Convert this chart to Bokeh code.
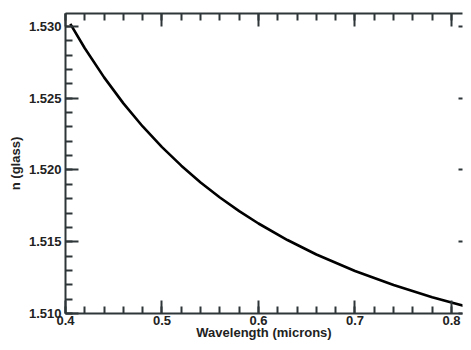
from bokeh.plotting import figure
from bokeh.models import (Range1d, LinearAxis, SingleIntervalTicker,
                          NumeralTickFormatter, CustomJSTickFormatter)
from bokeh.embed import file_html
from bokeh.resources import INLINE

# Data
wavelength = [0.405, 0.42, 0.44, 0.46, 0.48, 0.50, 0.52, 0.54, 0.56, 0.58,
              0.60, 0.63, 0.66, 0.70, 0.74, 0.78, 0.80, 0.82, 0.84]
n_glass = [1.53018, 1.52848, 1.52645, 1.52464, 1.52303, 1.52159, 1.52030,
           1.51913, 1.51808, 1.51713, 1.51627, 1.51512, 1.51411, 1.51296,
           1.51198, 1.51114, 1.51076, 1.51041, 1.51009]

x_label = "Wavelength (microns)"
y_label = "n (glass)"

AX = "#2e3639"
FONT = "Liberation Sans"

p = figure(width=463, height=342, output_backend="svg", toolbar_location=None,
           x_range=Range1d(0.4, 0.8114), y_range=Range1d(1.510, 1.5309),
           min_border_left=65, min_border_right=1, min_border_top=13, min_border_bottom=28)
p.outline_line_color = None
p.grid.visible = False
p.background_fill_color = "white"
p.border_fill_color = "white"

p.line(wavelength, n_glass, line_color="black", line_width=2.6)

def style(ax, ticker, fmt):
    ax.ticker = ticker
    ax.formatter = fmt
    ax.axis_line_color = AX
    ax.axis_line_width = 2
    ax.major_tick_line_color = AX
    ax.minor_tick_line_color = AX
    ax.major_tick_line_width = 2
    ax.minor_tick_line_width = 2
    ax.major_tick_in = 13
    ax.major_tick_out = 0
    ax.minor_tick_in = 7
    ax.minor_tick_out = 0
    ax.major_label_text_font = FONT
    ax.major_label_text_font_style = "bold"
    ax.major_label_text_font_size = "13px"
    ax.major_label_text_color = "#222222"
    ax.axis_label_text_font = FONT
    ax.axis_label_text_font_style = "bold"
    ax.axis_label_text_font_size = "13px"
    ax.axis_label_text_color = "#222222"
    ax.axis_label_text_line_height = 1.0

style(p.xaxis[0], SingleIntervalTicker(interval=0.1, num_minor_ticks=5),
      NumeralTickFormatter(format="0.0"))
style(p.yaxis[0], SingleIntervalTicker(interval=0.005, num_minor_ticks=5),
      NumeralTickFormatter(format="0.000"))
p.xaxis[0].axis_label = x_label
p.xaxis[0].major_label_standoff = 2
p.xaxis[0].axis_label_standoff = -3
p.yaxis[0].axis_label = y_label
p.yaxis[0].major_label_standoff = 4
p.yaxis[0].axis_label_standoff = 3

blank = CustomJSTickFormatter(code="return ''")

top = LinearAxis()
style(top, SingleIntervalTicker(interval=0.1, num_minor_ticks=5), blank)
top.major_label_standoff = 0
p.add_layout(top, "above")

right = LinearAxis()
style(right, SingleIntervalTicker(interval=0.005, num_minor_ticks=5), blank)
right.major_label_standoff = 0
right.axis_line_color = None
right.major_tick_in = 4
right.minor_tick_in = 0
right.minor_tick_line_color = None
p.add_layout(right, "right")

open("out.html", "w").write(file_html(p, INLINE))
